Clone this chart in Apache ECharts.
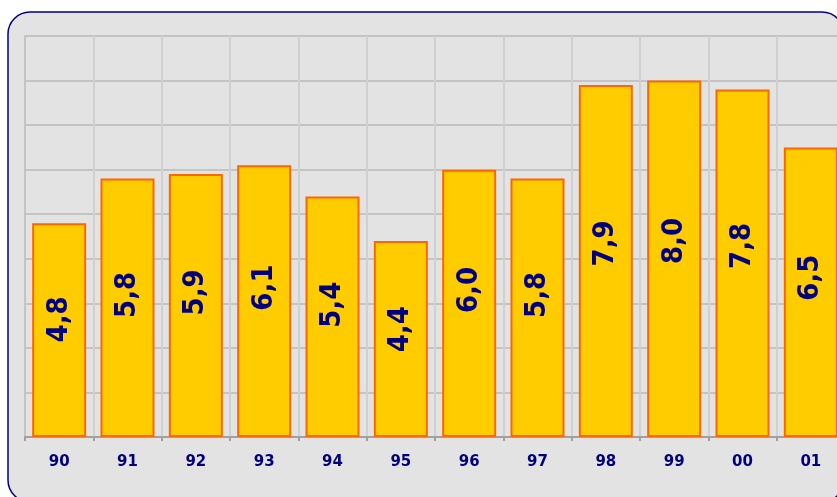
<!DOCTYPE html>
<html>
<head>
<meta charset="utf-8">
<script src="https://cdn.jsdelivr.net/npm/echarts@6/dist/echarts.min.js"></script>
<style>
html,body{margin:0;padding:0;background:#ffffff;overflow:hidden;width:837px;height:497px;}
#chart{width:845px;height:497px;}
</style>
</head>
<body>
<div id="chart"></div>
<script>
var categories = ['90','91','92','93','94','95','96','97','98','99','00','01'];
var values = [4.8, 5.8, 5.9, 6.1, 5.4, 4.4, 6.0, 5.8, 7.9, 8.0, 7.8, 6.5];
var yMin = 0, yMax = 9, yStep = 1;

var chart = echarts.init(document.getElementById('chart'), null, {renderer:'canvas'});
chart.setOption({
  animation: false,
  graphic: [{
    type: 'rect', z: -10, silent: true,
    shape: {x: 8, y: 12, width: 836, height: 490, r: 22},
    style: {fill: '#e3e3e3', stroke: '#000080', lineWidth: 1.5}
  }],
  grid: {left: 25, top: 36, right: 0, bottom: 60, containLabel: false},
  xAxis: {
    type: 'category',
    data: categories,
    boundaryGap: true,
    axisLine: {show: true, lineStyle: {color: '#a0a0a0', width: 2}},
    axisTick: {show: true, length: 4, lineStyle: {color: '#a0a0a0', width: 2}},
    splitLine: {show: true, lineStyle: {color: '#d0d0d0', width: 2}},
    axisLabel: {
      color: '#000080', fontFamily: 'DejaVu Sans', fontWeight: 'bold',
      fontSize: 15, margin: 18
    }
  },
  yAxis: {
    type: 'value', min: yMin, max: yMax, interval: yStep,
    axisLine: {show: true, lineStyle: {color: '#c4c4c4', width: 2}},
    axisTick: {show: false},
    axisLabel: {show: false},
    splitLine: {show: true, lineStyle: {color: '#c4c4c4', width: 2}}
  },
  series: [{
    type: 'bar',
    data: values,
    barWidth: 54,
    itemStyle: {color: '#ffcc00', borderColor: '#ff6600', borderWidth: 2},
    label: {
      show: true,
      position: ['50%', '45%'],
      rotate: 90,
      align: 'center',
      verticalAlign: 'middle',
      color: '#000080',
      fontFamily: 'DejaVu Sans Condensed',
      fontWeight: 'bold',
      fontSize: 29,
      formatter: function (p) { return p.value.toFixed(1).replace('.', ','); }
    }
  }]
});
</script>
</body>
</html>
